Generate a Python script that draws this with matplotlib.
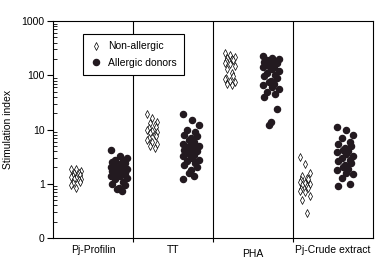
import matplotlib.pyplot as plt
import numpy as np
from matplotlib.ticker import LogLocator, FixedLocator, NullFormatter

plt.rcParams['font.family'] = ['Liberation Sans', 'DejaVu Sans']

categories = ['Pj-Profilin', 'TT', 'PHA', 'Pj-Crude extract']

# stimulation index
non_allergic = [
    [1.9, 1.85, 1.7, 1.6, 1.55, 1.45, 1.4, 1.35, 1.3, 1.25, 1.2, 1.15, 1.1, 1.05, 0.95, 0.85],
    [19, 16, 14, 13, 12, 11, 10.5, 10, 9.5, 9, 8.5, 8, 7.5, 7, 6.5, 6, 5.5, 5, 4.5],
    [260, 240, 220, 210, 200, 190, 180, 170, 160, 150, 130, 110, 95, 90, 85, 80, 75, 70, 65],
    [3.1, 2.3, 1.6, 1.4, 1.3, 1.2, 1.15, 1.1, 1.05, 1.0, 0.95, 0.9, 0.85, 0.8, 0.75, 0.7, 0.6, 0.5, 0.29],
]
allergic = [
    [4.2, 3.3, 3.0, 2.8, 2.7, 2.5, 2.4, 2.3, 2.2, 2.1, 2.0, 2.0, 1.9, 1.8, 1.8, 1.7, 1.6, 1.6,
     1.5, 1.5, 1.4, 1.4, 1.3, 1.2, 1.1, 1.0, 0.95, 0.85, 0.8, 0.75],
    [19, 15, 12, 10, 9, 8, 7.5, 7, 6.5, 6, 5.5, 5.2, 5, 4.8, 4.5, 4.2, 4, 3.8, 3.6, 3.4, 3.2, 3,
     2.8, 2.6, 2.4, 2.2, 2, 1.8, 1.6, 1.4, 1.25],
    [230, 210, 200, 190, 180, 175, 170, 160, 150, 145, 140, 130, 120, 110, 100, 95, 90, 80, 75,
     70, 65, 60, 55, 50, 45, 40, 24, 14, 12],
    [11, 10, 8, 7, 6, 5.5, 5, 4.5, 4.2, 4, 3.8, 3.5, 3.2, 3, 2.8, 2.6, 2.4, 2.2, 2, 1.9, 1.8,
     1.6, 1.5, 1.3, 1.0, 0.9],
]

# where each cloud sits inside its column
open_center = [0.29, 0.24, 0.21, 0.15]
fill_center = [0.82, 0.72, 0.72, 0.65]
open_pattern = np.array([-0.06, 0.0, 0.06, -0.03, 0.03, 0.045, -0.045])
fill_pattern = np.array([-0.10, 0.02, 0.10, -0.04, 0.06, -0.08, 0.08, 0.0, -0.02, 0.04])

fig = plt.figure(figsize=(3.82, 2.63), dpi=100)
ax = fig.add_axes([0.139, 0.095, 0.837, 0.825])

for i in range(len(categories)):
    y1 = np.array(non_allergic[i])
    x1 = i + open_center[i] + np.resize(open_pattern, len(y1))
    y2 = np.array(allergic[i])
    x2 = i + fill_center[i] + np.resize(fill_pattern, len(y2))
    ax.plot(x1, y1, linestyle='none', marker='d', markersize=4.2, markerfacecolor='white',
            markeredgecolor='black', markeredgewidth=0.5, label='Non-allergic' if i == 0 else None)
    ax.plot(x2, y2, linestyle='none', marker='o', markersize=4.4, color='#231a20',
            label='Allergic donors' if i == 0 else None)

for x in [1, 2, 3]:
    ax.axvline(x, color='black', linewidth=0.8)

ax.set_yscale('log')
ax.set_ylim(0.1, 1000)
ax.set_xlim(0, 4)
ax.yaxis.set_major_locator(FixedLocator([0.1, 1, 10, 100, 1000]))
ax.set_yticklabels(['0', '1', '10', '100', '1000'])
ax.yaxis.set_minor_locator(LogLocator(base=10, subs=np.arange(2, 10)))
ax.yaxis.set_minor_formatter(NullFormatter())
ax.tick_params(axis='y', which='major', direction='out', length=4, width=0.8, labelsize=7.5, pad=2)
ax.tick_params(axis='y', which='minor', direction='in', length=3, width=0.6)

ax.set_xticks([1, 2, 3])
ax.set_xticklabels([])
ax.tick_params(axis='x', direction='out', length=3, width=0.8)
for i, name in enumerate(categories):
    dy = -0.075 if name == 'PHA' else -0.055
    ax.text(i + 0.5, dy, name, transform=ax.get_xaxis_transform(), ha='center', va='center',
            fontsize=7.5)

for s in ax.spines.values():
    s.set_linewidth(0.8)

ax.set_ylabel('Stimulation index', fontsize=7.5, labelpad=6)

leg = ax.legend(loc='upper left', bbox_to_anchor=(0.094, 0.94), fontsize=7.5, frameon=True,
                fancybox=False, edgecolor='black', framealpha=1, handlelength=1,
                handletextpad=0.7, borderpad=0.7, labelspacing=0.6, borderaxespad=0)
leg.get_frame().set_linewidth(0.8)
leg.set_zorder(5)

fig.savefig('out.png', dpi=100)
